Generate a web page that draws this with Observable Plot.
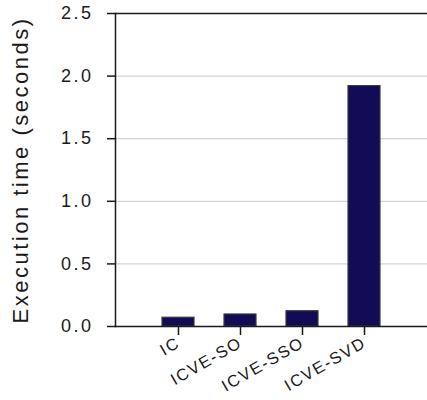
<!DOCTYPE html>
<html>
<head>
<meta charset="utf-8">
<script src="https://cdn.jsdelivr.net/npm/d3@7"></script>
<script src="https://cdn.jsdelivr.net/npm/@observablehq/plot@0.6"></script>
<style>
  body { margin: 0; background: #fff; }
  svg { font-family: "Liberation Sans", Arial, sans-serif; }
</style>
</head>
<body>
<div id="chart"></div>
<script>
const methods = ["IC", "ICVE-SO", "ICVE-SSO", "ICVE-SVD"];
const times = [0.07, 0.096, 0.122, 1.92];
const yTicks = [0, 0.5, 1.0, 1.5, 2.0, 2.5];
const gridTicks = [0.5, 1.0, 1.5, 2.0];

const data = methods.map((m, i) => ({method: m, time: times[i]}));

const chart = Plot.plot({
  width: 427,
  height: 400,
  marginLeft: 115,
  marginRight: 0,
  marginTop: 13,
  marginBottom: 74,
  style: {fontFamily: "'Liberation Sans', Arial, sans-serif", background: "#fff"},
  x: {domain: methods, paddingInner: 0.48, paddingOuter: 0.72, align: 0.5},
  y: {domain: [0, 2.5]},
  marks: [
    Plot.gridY(gridTicks, {stroke: "#c8c8c8", strokeOpacity: 1, strokeWidth: 1}),
    Plot.barY(data, {x: "method", y: "time", fill: "#120c57", stroke: "#3a3a3a", strokeWidth: 1.2}),
    Plot.frame({anchor: "left", stroke: "#1a1a1a", strokeWidth: 1.5}),
    Plot.frame({anchor: "top", stroke: "#1a1a1a", strokeWidth: 1.5}),
    Plot.frame({anchor: "bottom", stroke: "#1a1a1a", strokeWidth: 1.5}),
    Plot.axisY(yTicks, {
      tickFormat: d3.format(".1f"),
      tickSize: 8,
      tickPadding: 14,
      fontSize: 18,
      stroke: "#1a1a1a",
      strokeWidth: 1.5,
      fill: "#1a1a1a",
      label: null
    }),
    Plot.axisX({
      tickSize: 9,
      tickPadding: 6,
      tickRotate: -30,
      fontSize: 16.5,
      stroke: "#1a1a1a",
      strokeWidth: 1.5,
      fill: "#1a1a1a",
      label: null
    }),
    Plot.text(["Execution time (seconds)"], {
      frameAnchor: "left",
      textAnchor: "middle",
      dx: -95,
      rotate: -90,
      fontSize: 22,
      fill: "#1a1a1a",
      text: d => d
    })
  ]
});

chart.querySelectorAll("text").forEach(t => {
  const fs = parseFloat(t.getAttribute("font-size") || t.parentNode.getAttribute("font-size") || 0);
  t.style.letterSpacing = fs >= 20 ? "2.5px" : (fs >= 17 ? "2.5px" : "1.6px");
});

document.getElementById("chart").appendChild(chart);
</script>
</body>
</html>
